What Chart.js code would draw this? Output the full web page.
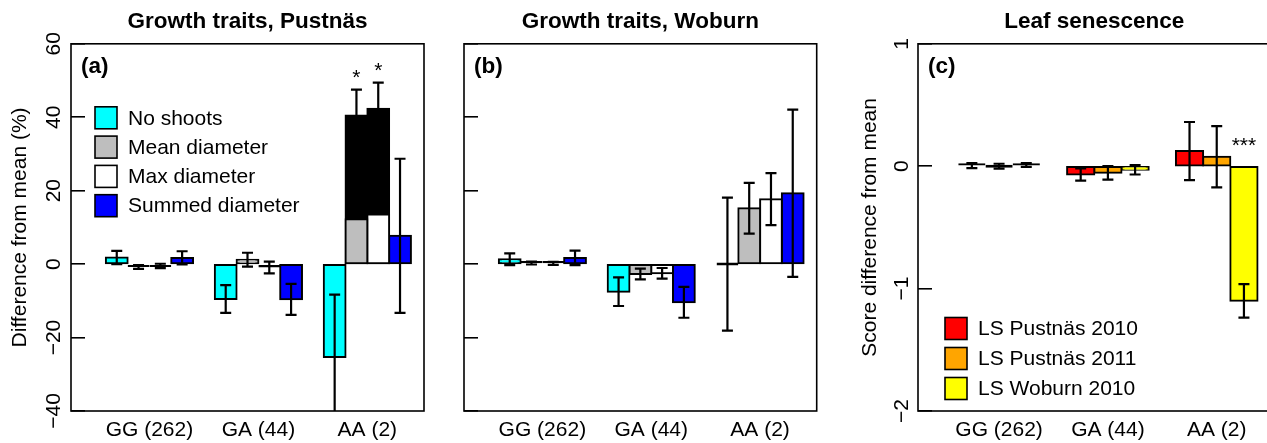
<!DOCTYPE html>
<html>
<head>
<meta charset="utf-8">
<script src="https://cdn.jsdelivr.net/npm/chart.js@4.4.1/dist/chart.umd.min.js"></script>
<style>
  html, body { margin: 0; padding: 0; background: #fff; overflow: hidden; }
  #wrap { position: relative; width: 1267px; height: 443px; overflow: hidden; }
  canvas { position: absolute; top: 0; }
</style>
</head>
<body>
<div id="wrap">
  <canvas id="panelA" width="440" height="443" style="left:0px"></canvas>
  <canvas id="panelB" width="400" height="443" style="left:440px"></canvas>
  <canvas id="panelC" width="440" height="443" style="left:847px"></canvas>
</div>
<script>
// ---- data ----
const genotypes = ['GG (262)', 'GA (44)', 'AA (2)'];

const growthSeries = ['No shoots', 'Mean diameter', 'Max diameter', 'Summed diameter'];
const growthColours = ['#00ffff', '#bebebe', '#ffffff', '#0000ff'];

// (a) Pustnäs, % difference from mean, and standard errors
const noShootsA = [1.8, -9.5, -25.3];
const noShootsA_se = [1.8, 3.8, 17];
const meanDiamA = [-0.8, 1.2, 40.5];
const meanDiamA_se = [0.5, 1.9, 7.0];
const maxDiamA = [-0.5, -0.9, 42.3];
const maxDiamA_se = [0.6, 1.6, 7.1];
const summedA = [1.7, -9.6, 7.7];
const summedA_se = [1.8, 4.2, 21];
// AA diameter bars: lower part in the series colour, rest black
const meanDiamA_lower = [null, null, 12.2];
const maxDiamA_lower = [null, null, 13.5];
const sigA = [['', '', ''], ['', '', '*'], ['', '', '*'], ['', '', '']];

// (b) Woburn
const noShootsB = [1.3, -7.5, 0];
const noShootsB_se = [1.6, 3.9, 18.1];
const meanDiamB = [0.3, -2.7, 15.2];
const meanDiamB_se = [0.4, 1.45, 6.9];
const maxDiamB = [0.2, -2.5, 17.7];
const maxDiamB_se = [0.4, 1.45, 7.1];
const summedB = [1.7, -10.4, 19.3];
const summedB_se = [2.0, 4.2, 22.8];
const sigB = [['', '', ''], ['', '', ''], ['', '', ''], ['', '', '']];

// (c) leaf senescence, score difference from mean
const lsSeries = ['LS Pustnäs 2010', 'LS Pustnäs 2011', 'LS Woburn 2010'];
const lsColours = ['#ff0000', '#ffa500', '#ffff00'];
const lsPust2010 = [0.005, -0.068, 0.124];
const lsPust2010_se = [0.02, 0.05, 0.237];
const lsPust2011 = [0.0, -0.054, 0.077];
const lsPust2011_se = [0.02, 0.055, 0.25];
const lsWob2010 = [0.01, -0.03, -1.10];
const lsWob2010_se = [0.015, 0.038, 0.137];
const sigC = [['', '', ''], ['', '', ''], ['', '', '***']];

// ---- helpers ----
Chart.defaults.font.family = '"Liberation Sans", Arial, Helvetica, sans-serif';
Chart.defaults.font.size = 21;
Chart.defaults.color = '#000';

function barCentre(g, j, n) { return 1 + g * (n + 1) + j + 0.5; }
function groupCentre(g, n) { return 1 + g * (n + 1) + n / 2; }
function minusFmt(v) { return v < 0 ? '\u2212' + Math.abs(v) : String(v); }

function buildDatasets(names, colours, values, errors, sigs, lowers) {
  const n = names.length;
  const sets = [];
  names.forEach((name, j) => {
    const low = lowers ? lowers[j] : null;
    sets.push({
      label: name,
      data: values[j].map((v, g) => ({x: barCentre(g, j, n), y: v})),
      errors: errors[j],
      sig: sigs[j],
      backgroundColor: values[j].map((v, g) => (low && low[g] != null) ? '#000000' : colours[j]),
      order: 1
    });
    if (low) {
      sets.push({
        label: name,
        data: low.map((v, g) => ({x: barCentre(g, j, n), y: v})),
        backgroundColor: colours[j],
        order: 0
      });
    }
  });
  return sets;
}

function xAxis(n) {
  const total = 3 * (n + 1);
  return {
    type: 'linear', min: -0.04 * total, max: 1.04 * total, bounds: 'data', offset: false,
    afterFit: s => { s.height = 32; },
    afterBuildTicks: s => { s.ticks = genotypes.map((g, i) => ({value: groupCentre(i, n)})); },
    grid: {display: false, drawTicks: false, offset: false},
    border: {display: false},
    ticks: {padding: 7, maxRotation: 0, minRotation: 0, autoSkip: false, callback: (v, i) => genotypes[i]}
  };
}

function yAxis(min, max, step, title, width, labelPad, titlePad, showLabels) {
  return {
    type: 'linear', min: min, max: max, bounds: 'data',
    afterFit: s => { s.width = width; },
    border: {display: false},
    grid: {drawOnChartArea: false, drawTicks: true, tickLength: -14, color: '#000', lineWidth: 1.6},
    ticks: {display: showLabels, stepSize: step, minRotation: 90, maxRotation: 90,
            crossAlign: 'center', padding: labelPad, callback: minusFmt},
    title: {display: !!title, text: title || '', padding: {top: titlePad, bottom: 0}, font: {size: 21}}
  };
}

// error bars from the dataset values and standard errors
const errorBars = {
  id: 'errorBars',
  afterDatasetsDraw(chart, args, opts) {
    const {ctx, chartArea: a, scales: {y}} = chart;
    ctx.save();
    ctx.beginPath();
    ctx.rect(a.left, a.top, a.right - a.left, a.bottom - a.top);
    ctx.clip();
    ctx.strokeStyle = '#000';
    ctx.lineWidth = 2.2;
    chart.data.datasets.forEach((ds, i) => {
      if (!ds.errors) return;
      chart.getDatasetMeta(i).data.forEach((bar, k) => {
        const v = ds.data[k].y, e = ds.errors[k];
        const hi = y.getPixelForValue(v + e), lo = y.getPixelForValue(v - e);
        const h = opts.cap / 2;
        ctx.beginPath();
        ctx.moveTo(bar.x, hi); ctx.lineTo(bar.x, lo);
        ctx.moveTo(bar.x - h, hi); ctx.lineTo(bar.x + h, hi);
        ctx.moveTo(bar.x - h, lo); ctx.lineTo(bar.x + h, lo);
        ctx.stroke();
      });
    });
    ctx.restore();
  }
};

// box, panel letter, legend and significance stars
const panelDecor = {
  id: 'panelDecor',
  afterDraw(chart, args, o) {
    const {ctx, chartArea: a, scales: {y}} = chart;
    ctx.save();
    ctx.strokeStyle = '#000';
    ctx.lineWidth = 1.6;
    ctx.strokeRect(a.left, a.top, a.right - a.left, a.bottom - a.top);

    ctx.fillStyle = '#000';
    ctx.font = 'bold 22.5px "Liberation Sans", Arial, sans-serif';
    ctx.textBaseline = 'middle';
    ctx.textAlign = 'left';
    ctx.fillText(o.letter, a.left + 10, a.top + 23);

    if (o.legend) {
      const L = o.legend;
      ctx.font = '21px "Liberation Sans", Arial, sans-serif';
      L.names.forEach((name, i) => {
        const cy = a.top + L.dy + i * L.rowH;
        const bx = a.left + L.dx;
        ctx.fillStyle = L.colours[i];
        ctx.fillRect(bx, cy - 11, 22, 22);
        ctx.lineWidth = 1.6;
        ctx.strokeRect(bx, cy - 11, 22, 22);
        ctx.fillStyle = '#000';
        ctx.fillText(name, bx + 33, cy + 1);
      });
    }

    ctx.font = '21px "Liberation Sans", Arial, sans-serif';
    ctx.textAlign = 'center';
    ctx.textBaseline = 'alphabetic';
    chart.data.datasets.forEach((ds, i) => {
      if (!ds.sig) return;
      chart.getDatasetMeta(i).data.forEach((bar, k) => {
        if (!ds.sig[k]) return;
        const top = Math.max(0, ds.data[k].y + ds.errors[k]);
        ctx.fillText(ds.sig[k], bar.x, y.getPixelForValue(top) - o.starGap + 7);
      });
    });
    ctx.restore();
  }
};

// very short bars collapse into a solid black outline, as in the original
function inflateFor(c) {
  const y = c.chart.scales.y;
  if (!y || !c.parsed || c.parsed.y == null) return 1;
  return Math.abs(y.getPixelForValue(c.parsed.y) - y.getPixelForValue(0)) < 3.5 ? 0 : 1;
}

const barDefaults = {
  grouped: false, barPercentage: 1, categoryPercentage: 1,
  borderColor: '#000', borderWidth: 2, borderSkipped: false,
  inflateAmount: inflateFor, minBarLength: 3
};

function makePanel(id, datasets, n, y, title, rightPad, decor) {
  return new Chart(document.getElementById(id), {
    type: 'bar',
    data: {datasets: datasets},
    options: {
      responsive: false, animation: false, events: [],
      datasets: {bar: barDefaults},
      layout: {padding: {left: 0, right: rightPad, top: 0, bottom: 0}},
      scales: {x: xAxis(n), y: y},
      plugins: {
        legend: {display: false},
        tooltip: {enabled: false},
        title: {display: true, text: title, fullSize: false,
                font: {size: 22.5, weight: 'bold'}, padding: {top: 8, bottom: 8.8}},
        errorBars: {cap: 11},
        panelDecor: decor
      }
    },
    plugins: [errorBars, panelDecor]
  });
}

makePanel('panelA',
  buildDatasets(growthSeries, growthColours,
    [noShootsA, meanDiamA, maxDiamA, summedA],
    [noShootsA_se, meanDiamA_se, maxDiamA_se, summedA_se],
    sigA, [null, meanDiamA_lower, maxDiamA_lower, null]),
  4, yAxis(-40, 60, 20, 'Difference from mean (%)', 71, 12.7, 7.4, true),
  'Growth traits, Pustnäs', 16,
  {letter: '(a)', starGap: 13,
   legend: {names: growthSeries, colours: growthColours, dx: 24, dy: 74, rowH: 29.3}});

makePanel('panelB',
  buildDatasets(growthSeries, growthColours,
    [noShootsB, meanDiamB, maxDiamB, summedB],
    [noShootsB_se, meanDiamB_se, maxDiamB_se, summedB_se],
    sigB, null),
  4, yAxis(-40, 60, 20, '', 24, 0, 0, false),
  'Growth traits, Woburn', 23.3,
  {letter: '(b)', starGap: 13});

makePanel('panelC',
  buildDatasets(lsSeries, lsColours,
    [lsPust2010, lsPust2011, lsWob2010],
    [lsPust2010_se, lsPust2011_se, lsWob2010_se],
    sigC, null),
  3, yAxis(-2, 1, 1, 'Score difference from mean', 71, 18.3, 10.4, true),
  'Leaf senescence', 16.4,
  {letter: '(c)', starGap: 21,
   legend: {names: lsSeries, colours: lsColours, dx: 27, dy: 284.7, rowH: 30}});
</script>
</body>
</html>
